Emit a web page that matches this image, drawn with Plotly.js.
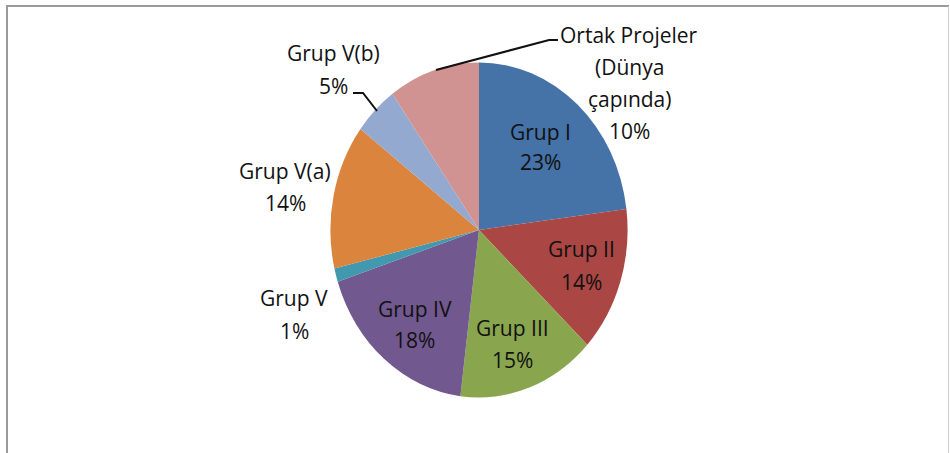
<!DOCTYPE html>
<html>
<head>
<meta charset="utf-8">
<script src="https://cdn.plot.ly/plotly-3.0.1.min.js"></script>
<style>
  html, body { margin: 0; padding: 0; background: #fff; }
  #chart { width: 950px; height: 453px; }
  /* the reference pie is drawn slightly narrower than tall */
  #chart .pielayer { transform: scaleX(0.887); transform-origin: 479px 230px; }
</style>
</head>
<body>
<div id="chart"></div>
<script>
// ---- data ----
const categories = ["Grup I", "Grup II", "Grup III", "Grup IV", "Grup V", "Grup V(a)", "Grup V(b)", "Ortak Projeler<br>(Dünya<br>çapında)"];
const shares = [23, 14, 15, 18, 1.3, 14, 4.8, 9.9];
const shareLabels = ["23%", "14%", "15%", "18%", "1%", "14%", "5%", "10%"];
const colors = ["#4572A7", "#AA4643", "#89A54E", "#71588F", "#4198AF", "#DB843D", "#93A9CF", "#D19392"];

// ---- label placement (px, centre of the first line) ----
const W = 950, H = 453;
const labelPos = [
  [540, 132], [581, 249], [512.5, 328], [414.5, 309],
  [294, 298], [285, 171], [333.5, 53], [629, 35]
];
const lineGap = [30, 33, 32, 31, 33, 32, 33, 32];
const FONT = {family: "Open Sans, sans-serif", size: 21, color: "#111"};

const annotations = [];
categories.forEach((cat, i) => {
  const lines = cat.split("<br>").concat([shareLabels[i]]);
  lines.forEach((ln, k) => {
    annotations.push({
      xref: "paper", yref: "paper",
      x: labelPos[i][0] / W, y: 1 - (labelPos[i][1] + k * lineGap[i]) / H,
      xanchor: "center", yanchor: "middle",
      text: ln, showarrow: false, font: FONT
    });
  });
});

const px = (x) => x / W, py = (y) => 1 - y / H;
const shapes = [
  // chart frame
  {type: "line", xref: "paper", yref: "paper", x0: px(6), x1: px(949), y0: py(6), y1: py(6), line: {color: "#9a9a9a", width: 2}},
  {type: "line", xref: "paper", yref: "paper", x0: px(7), x1: px(7), y0: py(5), y1: py(460), line: {color: "#9a9a9a", width: 2}},
  {type: "line", xref: "paper", yref: "paper", x0: px(948.5), x1: px(948.5), y0: py(6), y1: py(460), line: {color: "#cfcfcf", width: 1}},
  // leader lines
  {type: "path", xref: "paper", yref: "paper",
   path: `M ${px(436)} ${py(70)} L ${px(549)} ${py(40)} L ${px(558)} ${py(40)}`, line: {color: "#111", width: 2}},
  {type: "path", xref: "paper", yref: "paper",
   path: `M ${px(353)} ${py(93)} L ${px(363)} ${py(93)} L ${px(377)} ${py(111)}`, line: {color: "#111", width: 2}}
];

const R = 167.5, CX = 479, CY = 230;
const data = [{
  type: "pie",
  labels: categories,
  values: shares,
  sort: false,
  direction: "clockwise",
  rotation: 0,
  textinfo: "none",
  hoverinfo: "label+percent",
  marker: {colors: colors, line: {width: 0}},
  domain: {x: [(CX - R) / W, (CX + R) / W], y: [1 - (CY + R) / H, 1 - (CY - R) / H]},
  showlegend: false
}];

const layout = {
  width: W, height: H,
  margin: {l: 0, r: 0, t: 0, b: 0},
  paper_bgcolor: "#ffffff",
  showlegend: false,
  annotations: annotations,
  shapes: shapes
};

Plotly.newPlot("chart", data, layout, {displayModeBar: false, staticPlot: true});
</script>
</body>
</html>
